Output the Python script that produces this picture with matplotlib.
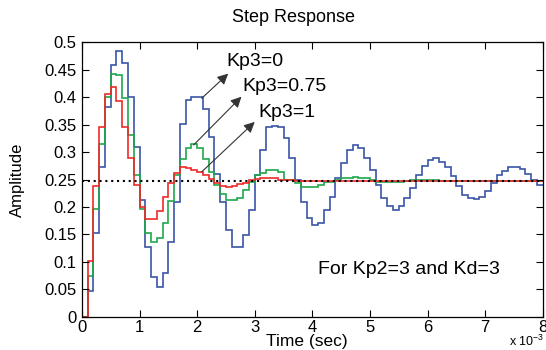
"""
Step response of the closed loop for three values of Kp3 (Kp2=3, Kd=3).
Sampled responses drawn as stairs, settling value shown as a dotted line.
"""

import numpy as np
import matplotlib

matplotlib.use("Agg")
import matplotlib.pyplot as plt

plt.rcParams["font.family"] = ["Liberation Sans", "DejaVu Sans"]
plt.rcParams["mathtext.fontset"] = "custom"
plt.rcParams["mathtext.rm"] = "Liberation Sans"

# sample period in units of 1e-3 s
TS = 0.1
N_SAMPLES = 80

# step response samples, one value per sample interval
kp3_0 = [0, 0.047, 0.153, 0.273, 0.383, 0.459, 0.485, 0.463, 0.401, 0.309,
         0.213, 0.128, 0.072, 0.055, 0.079, 0.137, 0.210, 0.352, 0.395, 0.401,
         0.401, 0.378, 0.328, 0.261, 0.210, 0.158, 0.128, 0.127, 0.149, 0.194,
         0.258, 0.304, 0.346, 0.347, 0.345, 0.325, 0.289, 0.249, 0.210, 0.180,
         0.167, 0.170, 0.194, 0.219, 0.252, 0.281, 0.304, 0.313, 0.307, 0.290,
         0.267, 0.240, 0.217, 0.202, 0.194, 0.202, 0.216, 0.234, 0.258, 0.275,
         0.286, 0.290, 0.282, 0.272, 0.256, 0.239, 0.222, 0.216, 0.214, 0.219,
         0.229, 0.243, 0.259, 0.266, 0.273, 0.273, 0.270, 0.261, 0.249, 0.240]

kp3_075 = [0, 0.074, 0.197, 0.315, 0.401, 0.443, 0.440, 0.398, 0.332, 0.258,
           0.196, 0.153, 0.136, 0.143, 0.171, 0.211, 0.258, 0.287, 0.308, 0.314,
           0.308, 0.287, 0.263, 0.240, 0.223, 0.213, 0.213, 0.217, 0.231, 0.246,
           0.258, 0.262, 0.267, 0.267, 0.263, 0.250, 0.249, 0.243, 0.237, 0.237,
           0.237, 0.240, 0.245, 0.245, 0.249, 0.253, 0.253, 0.255, 0.252, 0.252,
           0.249, 0.246, 0.246, 0.246, 0.246, 0.246, 0.247, 0.250, 0.250, 0.250,
           0.250, 0.250, 0.248, 0.248, 0.248, 0.248, 0.248, 0.248, 0.248, 0.248,
           0.248, 0.248, 0.248, 0.248, 0.248, 0.248, 0.248, 0.248, 0.248, 0.248]

kp3_1 = [0, 0.102, 0.238, 0.345, 0.406, 0.419, 0.394, 0.345, 0.289, 0.240,
         0.200, 0.179, 0.179, 0.193, 0.218, 0.243, 0.262, 0.272, 0.271, 0.267,
         0.263, 0.258, 0.251, 0.243, 0.238, 0.237, 0.238, 0.241, 0.244, 0.249,
         0.251, 0.252, 0.252, 0.252, 0.250, 0.250, 0.249, 0.248, 0.247, 0.247,
         0.247, 0.247, 0.247, 0.248, 0.248, 0.248, 0.248, 0.248, 0.248, 0.248,
         0.248, 0.248, 0.248, 0.248, 0.248, 0.248, 0.248, 0.248, 0.248, 0.248,
         0.248, 0.248, 0.248, 0.248, 0.248, 0.248, 0.248, 0.248, 0.248, 0.248,
         0.248, 0.248, 0.248, 0.248, 0.248, 0.248, 0.248, 0.248, 0.248, 0.248]

final_value = 0.248

x_ticks = [0, 1, 2, 3, 4, 5, 6, 7, 8]
y_ticks = [0, 0.05, 0.1, 0.15, 0.2, 0.25, 0.3, 0.35, 0.4, 0.45, 0.5]

BLUE = "#3B55A8"
GREEN = "#1EA84C"
RED = "#EE2A2A"

edges = np.arange(N_SAMPLES + 1) * TS

fig = plt.figure(figsize=(5.46, 3.5), dpi=100)
ax = fig.add_axes([0.150, 0.095, 0.844, 0.784])

ax.stairs(kp3_0, edges, baseline=None, color=BLUE, lw=1.2)
ax.stairs(kp3_075, edges, baseline=None, color=GREEN, lw=1.2)
ax.stairs(kp3_1, edges, baseline=None, color=RED, lw=1.2)
ax.axhline(final_value, color="black", ls=(0, (1, 1.8)), lw=1.5)

ax.set_xlim(0, 8)
ax.set_ylim(0, 0.5)
ax.set_xticks(x_ticks)
ax.set_xticklabels([f"{v:g}" for v in x_ticks])
ax.set_yticks(y_ticks)
ax.set_yticklabels([f"{v:g}" for v in y_ticks])
ax.tick_params(direction="in", top=True, right=True, length=5, width=0.8,
               labelsize=12, pad=4)
ax.tick_params(axis="x", pad=2.5)
for s in ax.spines.values():
    s.set_linewidth(0.9)

ax.set_xlabel("Time (sec)", fontsize=12.5, va="center")
ax.xaxis.set_label_coords(0.488, -0.090)
ax.set_ylabel("Amplitude", fontsize=12, labelpad=14)
fig.text(294 / 546, 1 - 18 / 350, "Step Response", fontsize=13,
         ha="center", va="center")
fig.text(544 / 546, 1 - 341 / 350, r"x 10$^{-3}$", fontsize=9,
         ha="right", va="center")

arrow = dict(arrowstyle="-|>", color="#333333", lw=0.8, mutation_scale=16,
             shrinkA=0, shrinkB=0)
ax.annotate("", xy=(2.54, 0.443), xytext=(2.08, 0.398), arrowprops=arrow)
ax.annotate("", xy=(2.77, 0.401), xytext=(1.94, 0.313), arrowprops=arrow)
ax.annotate("", xy=(3.0, 0.355), xytext=(2.08, 0.264), arrowprops=arrow)
ax.text(2.51, 0.466, "Kp3=0", fontsize=14, va="center", ha="left")
ax.text(2.78, 0.420, "Kp3=0.75", fontsize=14, va="center", ha="left")
ax.text(3.06, 0.373, "Kp3=1", fontsize=14, va="center", ha="left")
ax.text(4.1, 0.087, "For Kp2=3 and Kd=3", fontsize=14, va="center", ha="left")

fig.savefig("out.png", dpi=100)
